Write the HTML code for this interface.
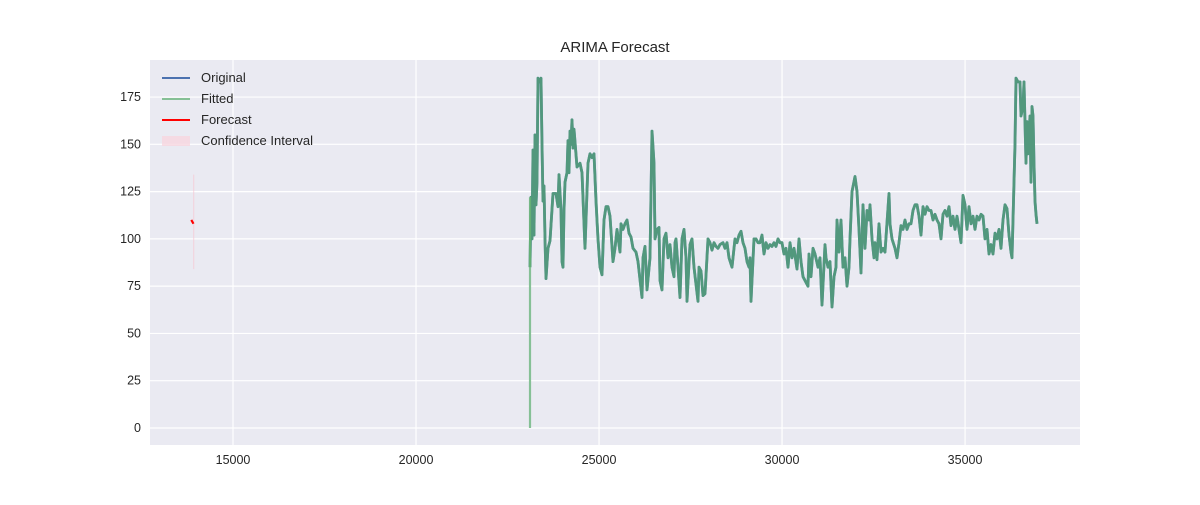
<!DOCTYPE html>
<html><head><meta charset="utf-8"><style>
body{margin:0;background:#fff;font-family:"Liberation Sans",sans-serif;}
svg text{font-family:"Liberation Sans",sans-serif;fill:#262626;}
</style></head><body>
<svg id="chart" width="1200" height="500" xmlns="http://www.w3.org/2000/svg">
<rect x="0" y="0" width="1200" height="500" fill="#fff"/>
<rect x="150" y="60" width="930" height="385" fill="#eaeaf2"/>
<g id="grid"></g>
<g id="ticks"></g>
<g id="series"></g>
<text x="615" y="52" text-anchor="middle" font-size="15">ARIMA Forecast</text>
<g>
<line x1="162" y1="78" x2="190" y2="78" stroke="#4c72b0" stroke-width="2"/>
<text x="201" y="82" font-size="13">Original</text>
<line x1="162" y1="99" x2="190" y2="99" stroke="#86c096" stroke-width="2"/>
<text x="201" y="103" font-size="13">Fitted</text>
<line x1="162" y1="120" x2="190" y2="120" stroke="#ff0000" stroke-width="2"/>
<text x="201" y="124" font-size="13">Forecast</text>
<rect x="162" y="136" width="28" height="10" fill="#f7d6de" opacity="0.8"/>
<text x="201" y="145" font-size="13">Confidence Interval</text>
</g>
</svg>
<script>
const xTicks=[15000,20000,25000,30000,35000];
const yTicks=[0,25,50,75,100,125,150,175];
const tStart=23114;
const tOffset=[0,27,55,82,109,137,164,191,219,273,301,328,355,382,410,437,492,546,628,710,765,792,847,874,902,929,956,1011,1038,1065,1093,1120,1147,1175,1202,1284,1366,1421,1503,1585,1639,1694,1748,1803,1858,1912,1967,2022,2076,2131,2186,2268,2322,2377,2459,2486,2541,2595,2650,2705,2759,2814,2896,2951,3060,3087,3142,3196,3278,3333,3388,3415,3470,3524,3552,3606,3661,3716,3770,3825,3879,3934,3961,3989,4043,4098,4153,4207,4262,4289,4371,4426,4480,4590,4617,4672,4726,4781,4863,4918,4972,5027,5082,5136,5191,5273,5327,5382,5437,5519,5601,5655,5710,5765,5819,5874,5928,5983,6010,6038,6120,6174,6229,6284,6338,6393,6448,6502,6557,6612,6666,6721,6775,6830,6885,6939,6994,7049,7103,7158,7213,7295,7349,7404,7458,7595,7622,7677,7732,7786,7868,7923,7977,8059,8087,8141,8196,8251,8305,8360,8387,8442,8497,8551,8606,8660,8715,8742,8797,8879,8934,8988,9043,9070,9098,9152,9207,9262,9289,9344,9398,9425,9480,9535,9589,9644,9699,9808,9836,9890,9972,10027,10081,10136,10191,10245,10300,10354,10409,10464,10518,10573,10628,10682,10737,10792,10846,10901,10955,11010,11065,11119,11174,11229,11283,11338,11393,11447,11502,11557,11611,11666,11775,11830,11884,11939,11994,12048,12103,12157,12212,12267,12321,12376,12431,12485,12540,12595,12649,12704,12759,12813,12868,12923,12977,13032,13086,13141,13168,13196,13250,13278,13332,13387,13414,13469,13496,13551,13578,13605,13660,13687,13715,13742,13769,13797,13824,13851];
const values=[85,122,100,147,102,155,118,130,185,183,185,150,120,128,100,79,95,99,124,124,117,134,115,88,85,115,130,135,152,135,157,150,163,148,158,138,140,135,95,140,145,143,145,120,100,85,81,110,117,117,112,88,95,105,93,108,105,108,110,103,101,95,93,88,69,90,96,73,90,157,140,100,105,106,78,73,100,103,90,97,85,80,98,100,85,69,100,105,90,67,97,100,85,67,85,83,70,71,100,98,94,98,96,95,97,98,95,98,90,85,100,98,102,104,98,95,88,85,90,67,100,100,98,98,102,92,98,95,97,96,98,96,100,98,98,92,95,85,98,90,95,84,100,88,80,75,92,80,95,92,85,90,65,97,90,85,88,64,80,85,110,93,110,85,90,75,85,100,125,133,125,105,82,100,118,95,115,110,118,100,90,98,89,108,93,95,93,124,108,100,95,90,98,107,105,110,105,108,108,115,118,118,112,102,117,113,117,115,115,110,113,110,108,100,113,115,112,117,107,112,105,112,98,123,118,105,117,108,112,105,112,110,113,112,100,105,92,97,92,103,100,105,95,110,118,116,102,93,90,110,150,185,183,183,165,170,183,140,162,145,165,130,170,165,140,120,113,108];
const fittedStartValues=[0,122];
const forecastX=[13860,13920];
const forecastY=[110,108];
const ciX=[13925];
const ciLow=[84];
const ciHigh=[134];

const NS='http://www.w3.org/2000/svg';
const L=150,R=1080,T=60,B=445;
const xMin=12732,xMax=38140,yMin=-9,yMax=194.6;
const xs=v=>L+(v-xMin)/(xMax-xMin)*(R-L);
const ys=v=>B-(v-yMin)/(yMax-yMin)*(B-T);
function mk(tag,attrs,parent){const e=document.createElementNS(NS,tag);for(const k in attrs)e.setAttribute(k,attrs[k]);parent.appendChild(e);return e;}
const grid=document.getElementById('grid'),ticks=document.getElementById('ticks'),series=document.getElementById('series');
xTicks.forEach(t=>{
  const g=mk('line',{x1:xs(t),x2:xs(t),y1:T,y2:B,stroke:'#fff','stroke-width':1.2},grid);
  
  
  const tx=mk('text',{x:xs(t),y:B+19,'text-anchor':'middle','font-size':12.5},ticks);
  tx.textContent=t;
  
  
});
yTicks.forEach(t=>{
  const g=mk('line',{x1:L,x2:R,y1:ys(t),y2:ys(t),stroke:'#fff','stroke-width':1.2},grid);
  
  
  const tx=mk('text',{x:L-9,y:ys(t)+4,'text-anchor':'end','font-size':12.5},ticks);
  tx.textContent=t;
  
  
});
ciX.forEach((x,i)=>{
  const r=mk('rect',{x:xs(x)-0.6,y:ys(ciHigh[i]),width:1.2,height:ys(ciLow[i])-ys(ciHigh[i]),fill:'#f7c6d2',opacity:0.6},series);
  
  
});
const pts=tOffset.map((o,i)=>xs(tStart+o).toFixed(1)+','+ys(values[i]).toFixed(1)).join(' ');
const orig=mk('polyline',{points:pts,fill:'none',stroke:'#4c72b0','stroke-width':2.8,'stroke-linejoin':'round'},series);


const fs=mk('line',{x1:xs(tStart),x2:xs(tStart),y1:ys(fittedStartValues[0]),y2:ys(fittedStartValues[1]),stroke:'#86c096','stroke-width':2.2},series);


const fit=mk('polyline',{points:pts,fill:'none',stroke:'#55a868','stroke-width':2.8,'stroke-opacity':0.7,'stroke-linejoin':'round'},series);


const fc=mk('polyline',{points:forecastX.map((x,i)=>xs(x)+','+ys(forecastY[i])).join(' '),fill:'none',stroke:'#ff0000','stroke-width':2.2},series);


</script>
</body></html>
